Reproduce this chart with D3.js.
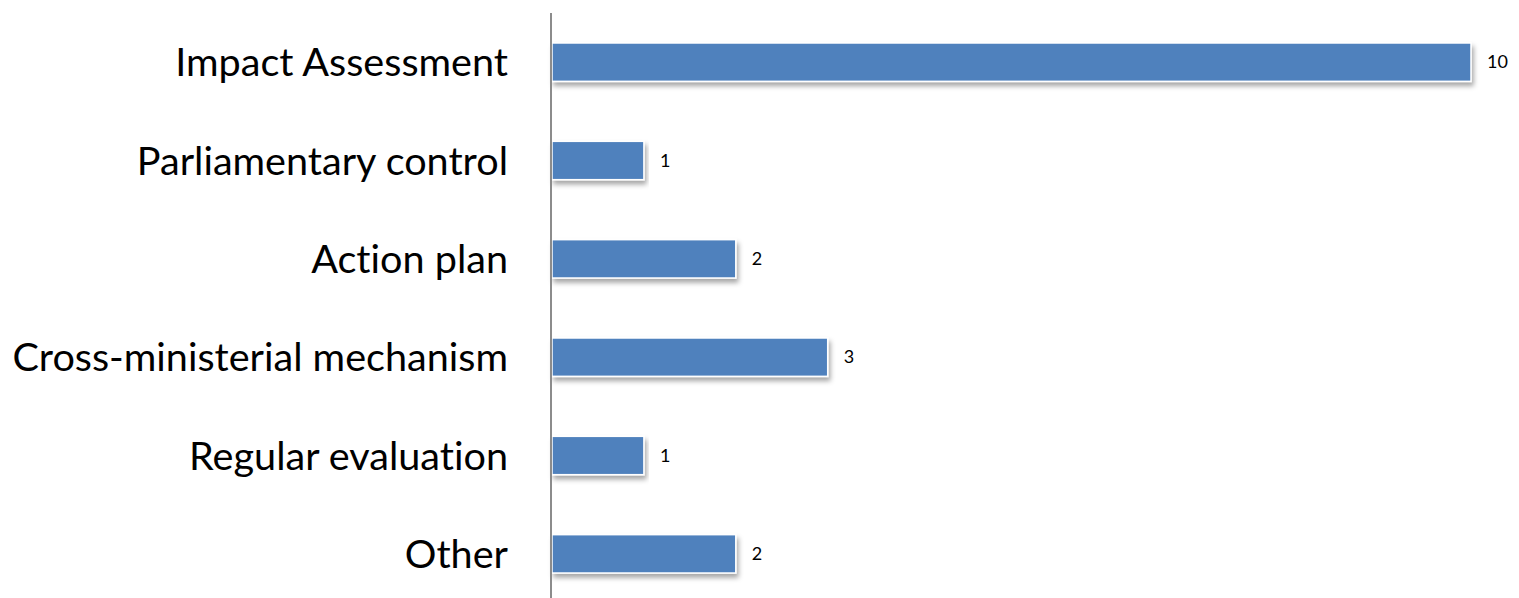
<!DOCTYPE html>
<html>
<head>
<meta charset="utf-8">
<script src="https://cdn.jsdelivr.net/npm/d3@7"></script>
<style>
  html, body { margin: 0; padding: 0; background: #ffffff; }
  svg { display: block; }
  text { font-variant-ligatures: none; }
</style>
</head>
<body>
<svg id="chart" width="1519" height="598"></svg>
<script>
// Instruments used, number of mentions
const categories = [
  "Impact Assessment",
  "Parliamentary control",
  "Action plan",
  "Cross-ministerial mechanism",
  "Regular evaluation",
  "Other"
];
const counts = [10, 1, 2, 3, 1, 2];

const width = 1519, height = 598;
const axisX = 551;

const svg = d3.select("#chart");

const defs = svg.append("defs");
const shadow = defs.append("filter")
  .attr("id", "barShadow")
  .attr("x", "-5%").attr("y", "-20%")
  .attr("width", "110%").attr("height", "160%");
shadow.append("feDropShadow")
  .attr("dx", 2).attr("dy", 4)
  .attr("stdDeviation", 2.5)
  .attr("flood-color", "#000")
  .attr("flood-opacity", 0.35);

const x = d3.scaleLinear()
  .domain([0, 10])
  .range([axisX + 1, 1471]);

const y = d3.scaleBand()
  .domain(categories)
  .range([13, 603])
  .paddingInner(0.61)
  .paddingOuter(0.305);

const rows = categories.map((c, i) => ({ cat: c, val: counts[i] }));

// Bars
svg.append("g")
  .selectAll("rect")
  .data(rows)
  .join("rect")
  .attr("x", x(0))
  .attr("y", d => y(d.cat))
  .attr("width", d => x(d.val) - x(0))
  .attr("height", y.bandwidth())
  .attr("fill", "#4F81BD")
  .attr("stroke", "#ffffff")
  .attr("stroke-width", 1.5)
  .attr("filter", "url(#barShadow)");

// Value labels
svg.append("g")
  .selectAll("text")
  .data(rows)
  .join("text")
  .attr("x", d => x(d.val) + 16)
  .attr("y", d => y(d.cat) + y.bandwidth() / 2)
  .attr("dy", "0.35em")
  .attr("font-family", "Lato, 'Open Sans', sans-serif")
  .attr("font-size", 18)
  .attr("fill", "#000")
  .text(d => d.val);

// Category axis
const axis = d3.axisLeft(y).tickSize(0).tickPadding(43);
const gAxis = svg.append("g")
  .attr("transform", `translate(${axisX},0)`)
  .call(axis);
gAxis.select(".domain").remove();
gAxis.selectAll("text")
  .attr("font-family", "Lato, 'Open Sans', sans-serif")
  .attr("font-size", 39.6)
  .attr("dy", "0.36em")
  .attr("fill", "#000");

svg.append("line")
  .attr("x1", axisX).attr("x2", axisX)
  .attr("y1", 13).attr("y2", height)
  .attr("stroke", "#8c8c8c")
  .attr("stroke-width", 2);
</script>
</body>
</html>
